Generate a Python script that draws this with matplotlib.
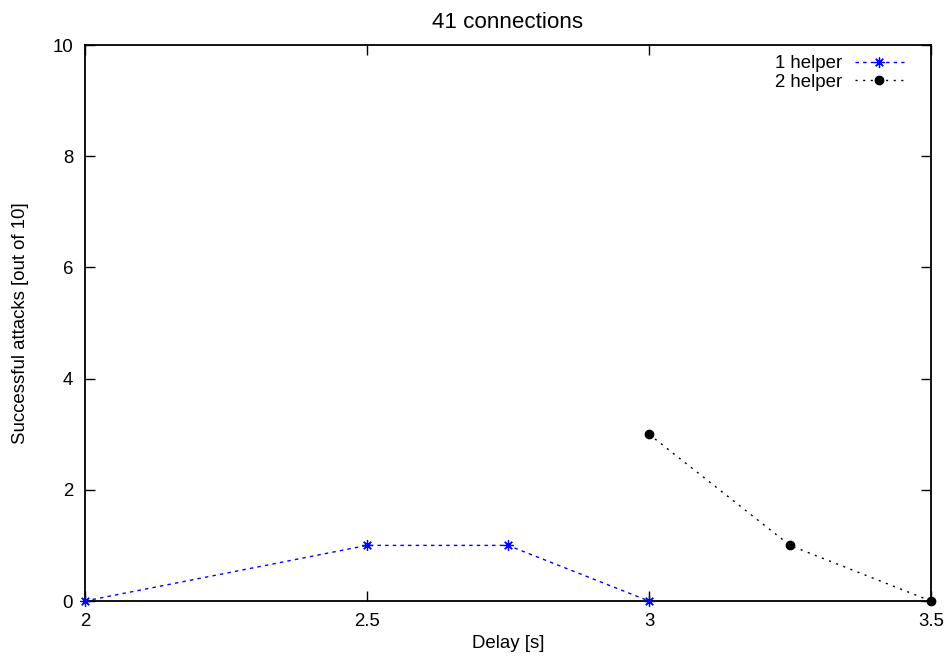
import matplotlib
matplotlib.use('Agg')
from matplotlib import pyplot as plt

plt.rcParams['font.family'] = ['Liberation Sans', 'DejaVu Sans']
plt.rcParams['font.size'] = 13.4

# data
delay_1 = [2.0, 2.5, 2.75, 3.0]
succ_1 = [0, 1, 1, 0]
delay_2 = [3.0, 3.25, 3.5]
succ_2 = [3, 1, 0]

xticks = [2, 2.5, 3, 3.5]
xticklabels = ['2', '2.5', '3', '3.5']
yticks = [0, 2, 4, 6, 8, 10]

fig = plt.figure(figsize=(9.48, 6.61), dpi=100)
ax = fig.add_axes([85 / 948, 1 - 601 / 661, (931 - 85) / 948, (601 - 45) / 661])

ax.plot(delay_1, succ_1, color='#0000ff', linestyle=(0, (2.5, 3)), linewidth=1,
        marker=(8, 2, 0), markersize=7.5, markeredgewidth=0.9, label='1 helper', clip_on=False, zorder=3)
ax.plot(delay_2, succ_2, color='black', linestyle=(0, (1.5, 4)), linewidth=1,
        marker='o', markersize=6, label='2 helper', clip_on=False, zorder=3)

ax.set_xlim(2, 3.5)
ax.set_ylim(0, 10)
ax.set_xticks(xticks)
ax.set_xticklabels(xticklabels)
ax.set_yticks(yticks)
ax.tick_params(direction='in', top=True, right=True, length=7, width=1, pad=8.5)
for s in ax.spines.values():
    s.set_linewidth(1.3)

ax.set_xlabel('Delay [s]', labelpad=4)
ax.set_ylabel('Successful attacks [out of 10]', labelpad=17)
ax.set_title('41 connections', pad=12)

ax.legend(loc='upper right', bbox_to_anchor=(911 / 948, 1 - 48 / 661),
          bbox_transform=fig.transFigure, borderaxespad=0, frameon=False,
          markerfirst=False, handlelength=2.6, handletextpad=0.7, labelspacing=0.08)

fig.savefig('out.png', dpi=100)
